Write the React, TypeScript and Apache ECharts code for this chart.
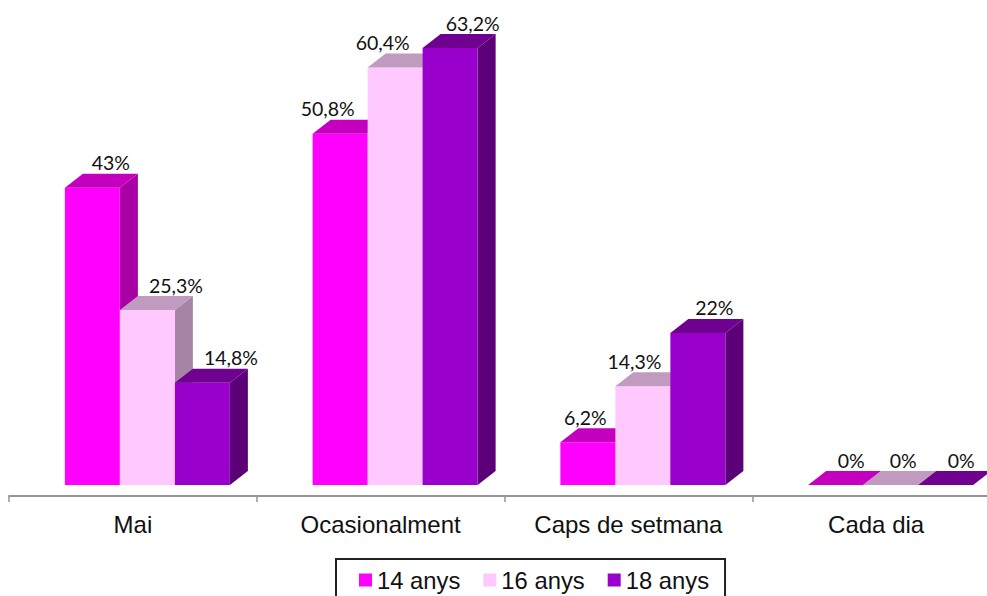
import React, { useEffect, useRef } from "react";
import * as echarts from "echarts";

const categories = ["Mai", "Ocasionalment", "Caps de setmana", "Cada dia"];
const seriesNames = ["14 anys", "16 anys", "18 anys"];
const values14 = [43, 50.8, 6.2, 0];
const values16 = [25.3, 60.4, 14.3, 0];
const values18 = [14.8, 63.2, 22, 0];

const frontColors = ["#FF00FF", "#FFC9FF", "#9900CC"];
const topColors = ["#C400BE", "#C19AC0", "#70008F"];
const sideColors = ["#A800A4", "#A585A5", "#5C0078"];

// label centre, measured from each bar's left edge (px), per series then category
const labelDx = [
  [46, 15, 25, 43],
  [56, 15, 19, 40],
  [56, 50, 44, 43],
];

const BAR_W = 55;
const DEPTH_X = 18;
const DEPTH_Y = 14;
const GROUP_SHIFT = -68;

const fmt = (v: number) => String(v).replace(".", ",") + "%";

function makeSeries(values: number[], s: number) {
  return {
    type: "custom",
    name: seriesNames[s],
    itemStyle: { color: frontColors[s] },
    data: values.map((v, i) => [i, v]),
    encode: { x: 0, y: 1 },
    clip: false,
    renderItem: (_p: any, api: any) => {
      const c = api.value(0);
      const v = api.value(1);
      const top = api.coord([c, v]);
      const base = api.coord([c, 0]);
      const x0 = top[0] + GROUP_SHIFT + s * BAR_W;
      const x1 = x0 + BAR_W;
      const y0 = top[1];
      const y1 = base[1];
      const children: any[] = [];
      if (v > 0) {
        children.push({
          type: "polygon",
          shape: { points: [[x1, y0], [x1 + DEPTH_X, y0 - DEPTH_Y], [x1 + DEPTH_X, y1 - DEPTH_Y], [x1, y1]] },
          style: { fill: sideColors[s] },
        });
        children.push({
          type: "rect",
          shape: { x: x0, y: y0, width: BAR_W, height: y1 - y0 },
          style: { fill: frontColors[s] },
        });
      }
      children.push({
        type: "polygon",
        shape: { points: [[x0, y0], [x0 + DEPTH_X, y0 - DEPTH_Y], [x1 + DEPTH_X, y0 - DEPTH_Y], [x1, y0]] },
        style: { fill: topColors[s] },
      });
      children.push({
        type: "text",
        z2: 50,
        style: {
          x: x0 + labelDx[s][c],
          y: y0 - DEPTH_Y - 11,
          text: fmt(v),
          fill: "#111",
          font: '19.5px Lato, "Noto Sans", sans-serif',
          align: "center",
          verticalAlign: "middle",
        },
      });
      return { type: "group", children };
    },
  };
}

export default function App() {
  const ref = useRef<HTMLDivElement>(null);
  useEffect(() => {
    const chart = echarts.init(ref.current!, undefined, { renderer: "svg" });
    chart.setOption({
      animation: false,
      backgroundColor: "#fff",
      grid: { left: 9, right: 0, top: 1, height: 484 },
      xAxis: {
        type: "category",
        data: categories,
        offset: 11,
        axisLine: { show: true, onZero: false, lineStyle: { color: "#969696", width: 2 } },
        axisTick: { show: true, length: 6, lineStyle: { color: "#969696", width: 1.5 } },
        axisLabel: {
          color: "#111",
          fontFamily: '"Liberation Sans", Arial, sans-serif',
          fontSize: 24,
          margin: 16,
          interval: 0,
        },
      },
      yAxis: { type: "value", min: 0, max: 70, show: false },
      legend: {
        left: 336,
        top: 559,
        data: seriesNames,
        orient: "horizontal",
        icon: "rect",
        itemWidth: 13,
        itemHeight: 13,
        itemGap: 23,
        padding: [9, 16, 20, 23],
        borderColor: "#222",
        borderWidth: 2,
        selectedMode: false,
        textStyle: {
          color: "#111",
          fontFamily: '"Liberation Sans", Arial, sans-serif',
          fontSize: 23.8,
        },
      },
      series: [makeSeries(values14, 0), makeSeries(values16, 1), makeSeries(values18, 2)],
    });
    return () => chart.dispose();
  }, []);
  return (
    <div style={{ position: "absolute", left: 0, top: 0, width: 987, height: 596, overflow: "hidden" }}>
      <div ref={ref} style={{ width: 1000, height: 596 }} />
    </div>
  );
}
